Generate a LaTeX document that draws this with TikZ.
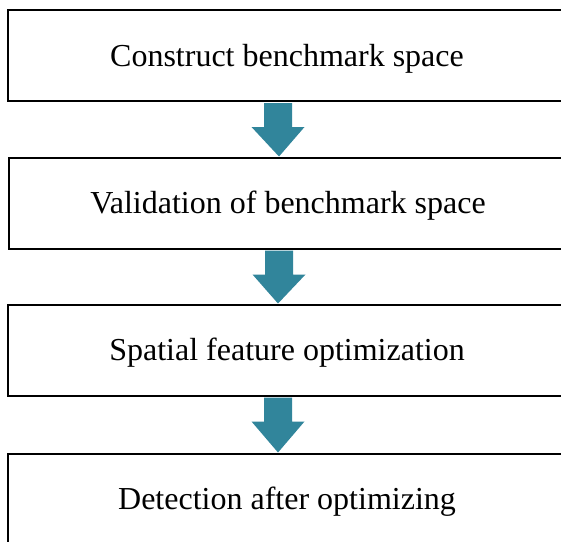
\documentclass[tikz,border=0pt]{standalone}
\usepackage{fontspec}
\setmainfont{Liberation Serif}
\usetikzlibrary{calc}
\definecolor{arrowteal}{RGB}{49,133,155}
\tikzset{
  stepbox/.style={draw=black, line width=2pt, fill=white, rectangle,
    minimum width=558pt, minimum height=91pt, inner sep=0pt,
    font=\fontsize{32}{36}\selectfont, text height=24pt, text depth=3pt},
  blockarrow/.style={fill=arrowteal, draw=none}
}
\newcommand\flowarrow[2]{%
  \fill[blockarrow] ($(#1.south)+(-23,-1)$) -- ($(#1.south)+(-23,-25)$)
    -- ($(#1.south)+(-35.5,-25)$) -- ($(#2.north)+(-9,0)$)
    -- ($(#1.south)+(17.5,-25)$) -- ($(#1.south)+(5,-25)$)
    -- ($(#1.south)+(5,-1)$) -- cycle;}
\begin{document}
\begin{tikzpicture}[x=1pt,y=1pt]
\useasboundingbox[fill=white] (0,0) rectangle (561,-541);
\node[stepbox] (b1) at (287,-55.5) {Construct benchmark space};
\node[stepbox] (b2) at (288,-203) {Validation of benchmark space};
\node[stepbox] (b3) at (287,-350) {Spatial feature optimization};
\node[stepbox] (b4) at (287,-499) {Detection after optimizing};
\flowarrow{b1}{b2}
\flowarrow{b2}{b3}
\flowarrow{b3}{b4}
\end{tikzpicture}
\end{document}
